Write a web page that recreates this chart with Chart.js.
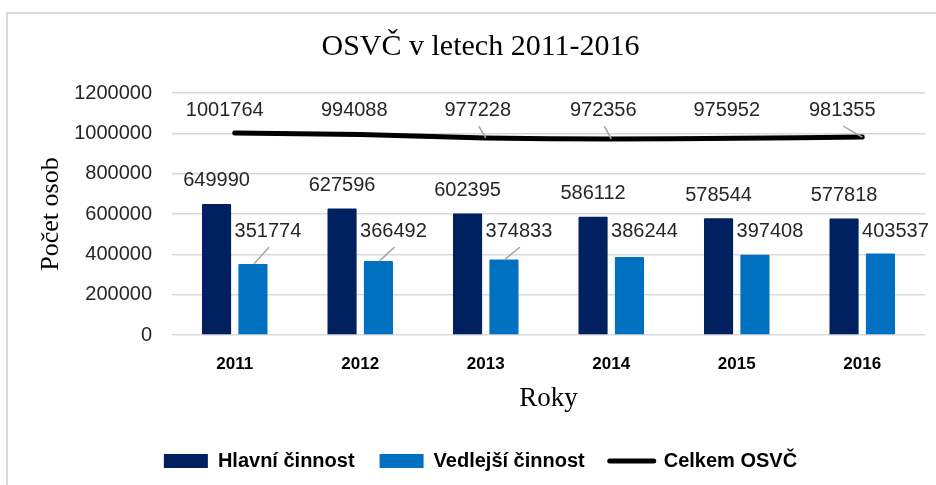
<!DOCTYPE html>
<html>
<head>
<meta charset="utf-8">
<script src="https://cdn.jsdelivr.net/npm/chart.js@4.4.0/dist/chart.umd.min.js"></script>
<style>
html, body { margin: 0; padding: 0; background: #fff; }
#wrap { position: relative; width: 936px; height: 485px; overflow: hidden; }
#frame { position: absolute; left: 6px; top: 12px; width: 1000px; height: 600px;
  border-top: 2px solid #d9d9d9; border-left: 2px solid #d9d9d9; }
canvas { position: absolute; left: 0; top: 0; }
</style>
</head>
<body>
<div id="wrap">
  <div id="frame"></div>
  <canvas id="myChart" width="936" height="485"></canvas>
</div>
<script>
const roky = ['2011', '2012', '2013', '2014', '2015', '2016'];
const hlavni = [649990, 627596, 602395, 586112, 578544, 577818];
const vedlejsi = [351774, 366492, 374833, 386244, 397408, 403537];
const celkem = [1001764, 994088, 977228, 972356, 975952, 981355];
const yMax = 1200000;
const yStep = 200000;

const sans = '"Liberation Sans", Arial, sans-serif';
const serif = '"Liberation Serif", "Times New Roman", serif';

// label tweaks (Excel had some labels dragged by hand)
const vedlejsiLeader = [true, true, true, false, false, false];
const celkemDx = [-10, -6, -8, -8, -10, -20];
const celkemLeader = [false, false, true, true, false, true];

const labelPlugin = {
  id: 'valueLabels',
  afterDatasetsDraw(chart) {
    const ctx = chart.ctx;
    const y = chart.scales.y;
    ctx.save();
    ctx.font = '20px ' + sans;
    ctx.fillStyle = '#262626';
    ctx.textAlign = 'center';
    ctx.textBaseline = 'middle';
    ctx.strokeStyle = '#a6a6a6';
    ctx.lineWidth = 1.5;

    chart.getDatasetMeta(0).data.forEach((bar, i) => {
      ctx.fillText(hlavni[i], bar.x, bar.y - 23);
    });

    const ly1 = y.getPixelForValue(515000);
    chart.getDatasetMeta(1).data.forEach((bar, i) => {
      ctx.fillText(vedlejsi[i], bar.x + 15, ly1);
      if (vedlejsiLeader[i]) {
        ctx.beginPath();
        ctx.moveTo(bar.x + 1, bar.y);
        ctx.lineTo(bar.x + 16, ly1 + 16);
        ctx.stroke();
      }
    });

    const ly2 = y.getPixelForValue(1115000);
    chart.getDatasetMeta(2).data.forEach((pt, i) => {
      const lx = pt.x + celkemDx[i];
      ctx.fillText(celkem[i], lx, ly2);
      if (celkemLeader[i]) {
        ctx.beginPath();
        ctx.moveTo(lx + 1, ly2 + 16);
        ctx.lineTo(pt.x, pt.y);
        ctx.stroke();
      }
    });
    ctx.restore();
  }
};

const ctx = document.getElementById('myChart');

new Chart(ctx, {
  type: 'bar',
  data: {
    labels: roky,
    datasets: [{
      label: 'Hlavní činnost',
      data: hlavni,
      backgroundColor: '#002060',
      borderRadius: 1,
      order: 1
    }, {
      label: 'Vedlejší činnost',
      data: vedlejsi,
      backgroundColor: '#0070c0',
      borderRadius: 1,
      order: 1
    }, {
      type: 'line',
      label: 'Celkem OSVČ',
      data: celkem,
      borderColor: '#000',
      backgroundColor: '#000',
      borderWidth: 5,
      borderCapStyle: 'round',
      tension: 0.3,
      pointRadius: 0,
      order: 0
    }]
  },
  options: {
    responsive: false,
    animation: false,
    datasets: {
      bar: { barPercentage: 0.8, categoryPercentage: 0.58 }
    },
    layout: { padding: { left: 36, right: 11, top: 0, bottom: 4 } },
    plugins: {
      title: {
        display: true,
        text: 'OSVČ v letech 2011-2016',
        color: '#000',
        font: { family: serif, size: 30, weight: 'normal' },
        padding: { top: 29, bottom: 28 }
      },
      legend: {
        position: 'bottom',
        labels: {
          usePointStyle: true,
          pointStyleWidth: 44,
          boxHeight: 14,
          padding: 25,
          color: '#000',
          font: { family: sans, size: 20, weight: 'bold' },
          sort: (a, b) => a.datasetIndex - b.datasetIndex,
          generateLabels(chart) {
            const items = Chart.defaults.plugins.legend.labels.generateLabels(chart);
            items.forEach(it => {
              const ds = chart.data.datasets[it.datasetIndex];
              if (ds.type === 'line') {
                it.pointStyle = 'line';
                it.lineWidth = 5;
                it.strokeStyle = '#000';
                it.lineCap = 'round';
              } else {
                it.pointStyle = 'rect';
                it.lineWidth = 0;
              }
            });
            return items;
          }
        }
      },
      tooltip: { enabled: false }
    },
    scales: {
      x: {
        afterFit(scale) { scale.height = 91; },
        grid: { display: false, drawTicks: false },
        border: { display: false },
        ticks: { color: '#000', padding: 19, font: { family: sans, size: 17, weight: 'bold' } },
        title: {
          display: true,
          text: 'Roky',
          color: '#000',
          font: { family: serif, size: 27 },
          padding: { top: 9, bottom: 11 }
        }
      },
      y: {
        min: 0,
        max: yMax,
        afterFit(scale) { scale.width = 136; },
        grid: { color: '#d9d9d9', lineWidth: 1.5, drawTicks: false },
        border: { display: false },
        ticks: {
          stepSize: yStep,
          padding: 20,
          color: '#262626',
          font: { family: sans, size: 20 },
          callback: v => String(v)
        },
        title: {
          display: true,
          text: 'Počet osob',
          color: '#000',
          font: { family: serif, size: 26 },
          padding: { top: 0, bottom: 12 }
        }
      }
    }
  },
  plugins: [labelPlugin]
});
</script>
</body>
</html>
